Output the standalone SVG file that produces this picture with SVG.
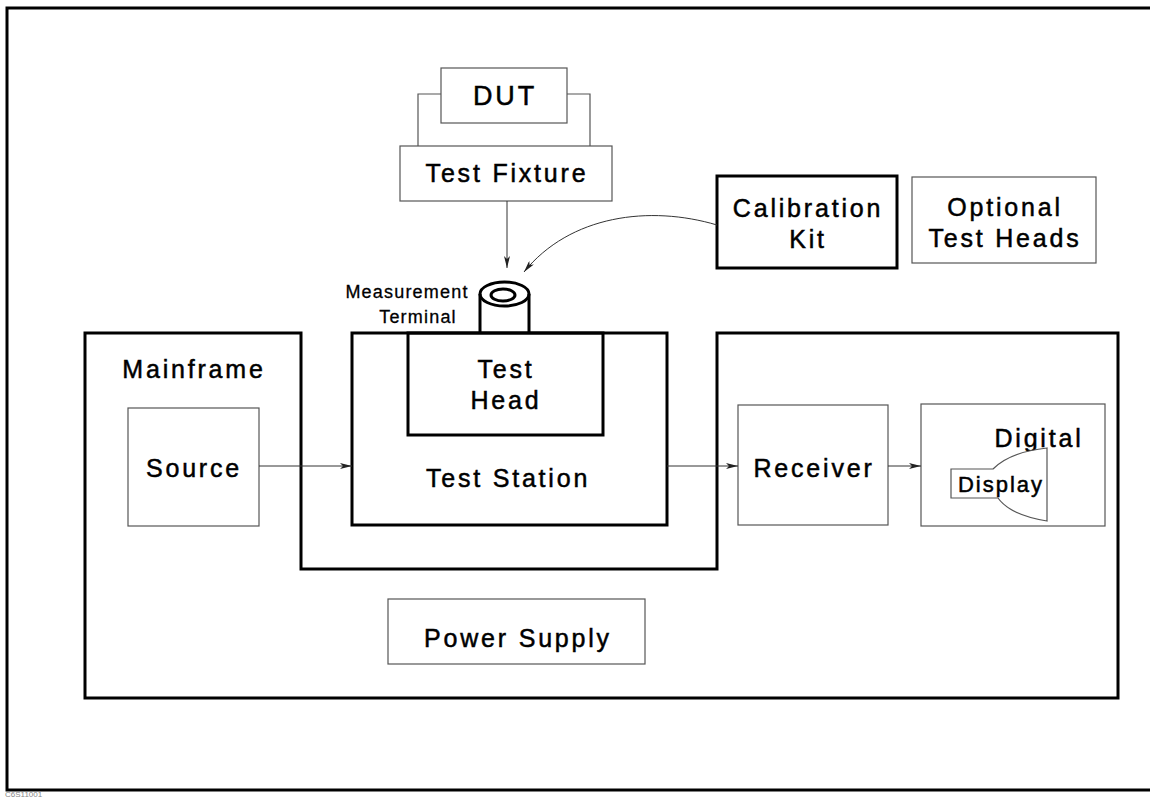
<svg xmlns="http://www.w3.org/2000/svg" width="1150" height="798" viewBox="0 0 1150 798">
<style>
.thin{fill:#fff;stroke:#555;stroke-width:1.2}
.thick{fill:none;stroke:#000;stroke-width:3}
.t{font-family:"Liberation Sans",Arial,sans-serif;font-size:25px;letter-spacing:2.8px;text-anchor:middle;fill:#000;stroke:#000;stroke-width:0.5}
.s{font-family:"Liberation Sans",Arial,sans-serif;font-size:18px;letter-spacing:1.2px;text-anchor:middle;fill:#000;stroke:#000;stroke-width:0.3}
.c{fill:none;stroke:#333;stroke-width:1}
</style>
<defs>
<marker id="ah" viewBox="0 0 12 6" refX="12" refY="3" markerWidth="12" markerHeight="6" markerUnits="userSpaceOnUse" orient="auto">
<path d="M0,0 L12,3 L0,6 L3,3 Z" fill="#222"/>
</marker>
</defs>
<rect x="7" y="8" width="1160" height="782" class="thick"/>
<text x="5" y="797" font-family="Liberation Sans,Arial,sans-serif" font-size="8" fill="#888">C6S11001</text>

<g id="mainframe">
<path d="M85,333 L301,333 L301,569 L717,569 L717,333 L1118,333 L1118,698 L85,698 Z" class="thick"/>
<text x="194" y="378" class="t">Mainframe</text>
</g>

<g id="dut">
<path d="M441,94 L418,94 L418,146 M567,94 L590,94 L590,146" class="thin" fill="none"/>
<rect x="441" y="68" width="126" height="55" class="thin"/>
<text x="505" y="105" class="t" style="font-size:27px">DUT</text>
</g>

<g id="test-fixture">
<rect x="400" y="146" width="212" height="55" class="thin"/>
<text x="507" y="182" class="t">Test Fixture</text>
</g>

<g id="calibration-kit">
<rect x="717" y="176" width="180" height="92" class="thick"/>
<text x="808" y="217" class="t">Calibration</text>
<text x="808" y="248" class="t">Kit</text>
</g>

<g id="optional-test-heads">
<rect x="912" y="177" width="184" height="86" class="thin"/>
<text x="1005" y="216" class="t">Optional</text>
<text x="1005" y="247" class="t">Test Heads</text>
</g>

<g id="measurement-terminal">
<path d="M480,294 L480,333 M529,294 L529,333" class="thick"/>
<ellipse cx="504.5" cy="294" rx="24.5" ry="12" class="thick" fill="#fff"/>
<ellipse cx="503" cy="295" rx="12" ry="6" class="thick"/>
<text x="407" y="298" class="s">Measurement</text>
<text x="418" y="323" class="s">Terminal</text>
</g>

<g id="test-station">
<rect x="352" y="333" width="315" height="192" class="thick" fill="#fff"/>
<text x="508" y="487" class="t">Test Station</text>
</g>

<g id="test-head">
<rect x="408" y="333" width="195" height="102" class="thick"/>
<text x="506" y="378" class="t">Test</text>
<text x="506" y="409" class="t">Head</text>
</g>

<g id="source">
<rect x="128" y="408" width="131" height="118" class="thin"/>
<text x="194" y="477" class="t">Source</text>
</g>

<g id="receiver">
<rect x="738" y="405" width="150" height="120" class="thin"/>
<text x="814" y="477" class="t">Receiver</text>
</g>

<g id="digital-display">
<rect x="921" y="404" width="184" height="122" class="thin"/>
<text x="1039" y="447" class="t">Digital</text>
<path d="M951,469 L993,469 Q1010,452 1047,448 L1047,521 Q1010,515 998,498 L951,498 Z" class="thin"/>
<text x="1001" y="492" class="t" style="font-size:22px;letter-spacing:2px">Display</text>
</g>

<g id="power-supply">
<rect x="388" y="599" width="257" height="65" class="thin"/>
<text x="518" y="647" class="t">Power Supply</text>
</g>

<g id="connectors">
<path d="M507,201 L507,268" class="c" marker-end="url(#ah)"/>
<path d="M717,225 C650,205 570,215 524,272" class="c" marker-end="url(#ah)"/>
<path d="M259,466 L352,466" class="c" marker-end="url(#ah)"/>
<path d="M667,466 L738,466" class="c" marker-end="url(#ah)"/>
<path d="M888,466 L921,466" class="c" marker-end="url(#ah)"/>
</g>
</svg>
